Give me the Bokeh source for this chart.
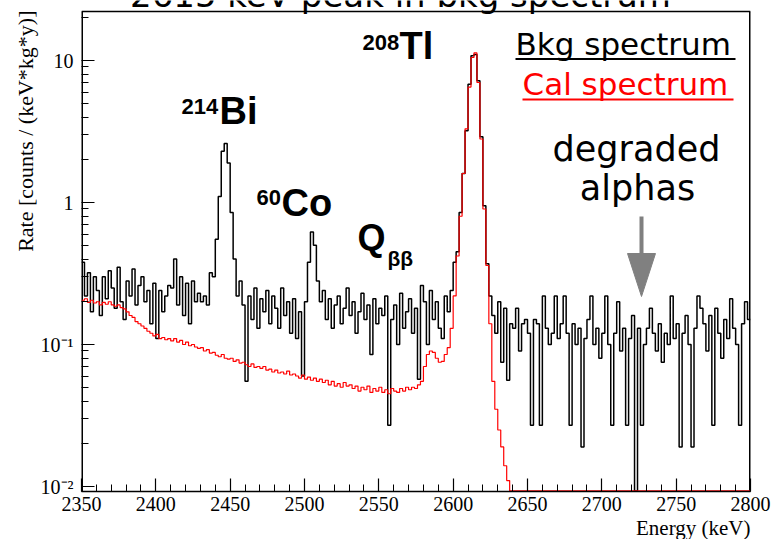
import math

from bokeh.plotting import figure
from bokeh.models import Range1d, FixedTicker, Label, Title
from bokeh.embed import file_html
from bokeh.resources import INLINE

# Histogram binning (keV)
E_MIN, E_MAX, BIN = 2350, 2800, 2

# Background spectrum, counts / (keV kg y), one value per 2 keV bin
bkg_rate = [
    0.38, 0.22, 0.32, 0.17, 0.30, 0.24, 0.16, 0.30, 0.21, 0.33,    # 2350-2370
    0.25, 0.18, 0.35, 0.20, 0.15, 0.28, 0.22, 0.34, 0.19, 0.26,    # 2370-2390
    0.30, 0.20, 0.24, 0.14, 0.27, 0.11, 0.24, 0.17, 0.22, 0.26,    # 2390-2410
    0.25, 0.40, 0.19, 0.30, 0.16, 0.27, 0.14, 0.28, 0.20, 0.23,    # 2410-2430
    0.20, 0.22, 0.19, 0.32, 0.30, 0.55, 1.10, 2.30, 2.60, 1.90,    # 2430-2450
    0.85, 0.40, 0.22, 0.28, 0.19, 0.055, 0.22, 0.15, 0.25, 0.13,   # 2450-2470
    0.21, 0.17, 0.24, 0.14, 0.22, 0.18, 0.13, 0.25, 0.16, 0.20,    # 2470-2490
    0.12, 0.21, 0.11, 0.17, 0.06, 0.20, 0.38, 0.62, 0.50, 0.28,    # 2490-2510
    0.20, 0.24, 0.15, 0.21, 0.13, 0.19, 0.22, 0.14, 0.18, 0.25,    # 2510-2530
    0.16, 0.20, 0.12, 0.17, 0.23, 0.15, 0.19, 0.085, 0.21, 0.14,   # 2530-2550
    0.18, 0.16, 0.22, 0.027, 0.15, 0.19, 0.10, 0.23, 0.13, 0.17,   # 2550-2570
    0.21, 0.12, 0.18, 0.057, 0.26, 0.20, 0.10, 0.24, 0.15, 0.20,   # 2570-2590
    0.13, 0.11, 0.22, 0.17, 0.24, 0.38, 0.45, 0.85, 1.60, 3.20,    # 2590-2610
    6.80, 10.8, 11.0, 7.20, 2.90, 0.95, 0.37, 0.22, 0.16, 0.12,    # 2610-2630
    0.20, 0.075, 0.18, 0.056, 0.14, 0.13, 0.18, 0.09, 0.14, 0.15,  # 2630-2650
    0.12, 0.027, 0.15, 0.14, 0.027, 0.22, 0.13, 0.10, 0.12, 0.22,  # 2650-2670
    0.11, 0.14, 0.22, 0.12, 0.027, 0.14, 0.10, 0.13, 0.019, 0.11,  # 2670-2690
    0.15, 0.22, 0.10, 0.13, 0.08, 0.12, 0.22, 0.10, 0.027, 0.12,   # 2690-2710
    0.20, 0.09, 0.13, 0.027, 0.11, 0.16, 0.0, 0.13, 0.027, 0.10,   # 2710-2730
    0.13, 0.18, 0.12, 0.09, 0.14, 0.075, 0.12, 0.10, 0.22, 0.11,   # 2730-2750
    0.14, 0.019, 0.12, 0.16, 0.10, 0.019, 0.13, 0.22, 0.18, 0.14,  # 2750-2770
    0.09, 0.16, 0.027, 0.18, 0.12, 0.08, 0.15, 0.11, 0.21, 0.13,   # 2770-2790
    0.10, 0.027, 0.14, 0.20, 0.15,                                 # 2790-2800
]

# Calibration spectrum, normalised to the 208Tl line
cal_rate = [
    0.205, 0.21, 0.198, 0.205, 0.196, 0.20, 0.19, 0.198, 0.192, 0.20,      # 2350-2370
    0.19, 0.186, 0.19, 0.182, 0.178, 0.17, 0.16, 0.155, 0.145, 0.14,       # 2370-2390
    0.135, 0.13, 0.124, 0.12, 0.115, 0.118, 0.11, 0.112, 0.108, 0.11,      # 2390-2410
    0.106, 0.11, 0.104, 0.107, 0.10, 0.104, 0.098, 0.10, 0.096, 0.094,     # 2410-2430
    0.095, 0.09, 0.092, 0.087, 0.088, 0.084, 0.082, 0.085, 0.08, 0.079,    # 2430-2450
    0.08, 0.076, 0.078, 0.074, 0.075, 0.072, 0.07, 0.073, 0.069, 0.07,     # 2450-2470
    0.068, 0.07, 0.066, 0.067, 0.064, 0.066, 0.063, 0.064, 0.062, 0.065,   # 2470-2490
    0.061, 0.062, 0.06, 0.058, 0.061, 0.057, 0.059, 0.056, 0.058, 0.055,   # 2490-2510
    0.057, 0.054, 0.056, 0.052, 0.055, 0.051, 0.053, 0.05, 0.054, 0.051,   # 2510-2530
    0.052, 0.049, 0.051, 0.047, 0.05, 0.048, 0.051, 0.046, 0.049, 0.047,   # 2530-2550
    0.05, 0.046, 0.048, 0.045, 0.049, 0.047, 0.046, 0.049, 0.047, 0.05,    # 2550-2570
    0.048, 0.05, 0.049, 0.052, 0.055, 0.07, 0.085, 0.09, 0.088, 0.08,      # 2570-2590
    0.075, 0.076, 0.085, 0.095, 0.13, 0.22, 0.42, 0.80, 1.60, 3.30,        # 2590-2610
    6.50, 10.5, 11.3, 7.00, 2.80, 0.90, 0.36, 0.14, 0.055, 0.035,          # 2610-2630
    0.025, 0.019, 0.014, 0.011, 0, 0, 0, 0, 0, 0,                          # 2630-2650
    0, 0, 0, 0, 0, 0, 0, 0, 0, 0,                                          # 2650-2670
    0, 0, 0, 0, 0, 0, 0, 0, 0, 0,                                          # 2670-2690
    0, 0, 0, 0, 0, 0, 0, 0, 0, 0,                                          # 2690-2710
    0, 0, 0, 0, 0, 0, 0, 0, 0, 0,                                          # 2710-2730
    0, 0, 0, 0, 0, 0, 0, 0, 0, 0,                                          # 2730-2750
    0, 0, 0, 0, 0, 0, 0, 0, 0, 0,                                          # 2750-2770
    0, 0, 0, 0, 0, 0, 0, 0, 0, 0,                                          # 2770-2790
    0, 0, 0, 0, 0,                                                         # 2790-2800
]

x_ticks = [2350, 2400, 2450, 2500, 2550, 2600, 2650, 2700, 2750, 2800]
y_ticks = [0.01, 0.1, 1, 10]
y_tick_text = {0.01: "10\u207b\u00b2", 0.1: "10\u207b\u00b9", 1: "1", 10: "10"}

# Page geometry (pixels): the plotting area is drawn as a box below a strip
# that carries the title, which runs off the top of the page.
FRAME_L, FRAME_R, BOX_T, FRAME_B = 81, 750, 11, 491
W, H = 771, 539
PX_PER_DECADE = 142.0
Y_TEN_PX = 60.0  # page row of the 10 tick
BASELINE_SHIFT = 0.38  # label anchor sits this many font sizes above the baseline


def ex(px):
    return E_MIN + (px - FRAME_L) * (E_MAX - E_MIN) / (FRAME_R - FRAME_L)


def ry(py):
    return 10 ** (1 - (py - Y_TEN_PX) / PX_PER_DECADE)


y_lo, y_box = ry(FRAME_B), ry(BOX_T)
floor = ry(FRAME_B - 0.6)  # empty bins are drawn along the bottom edge


def outline(vals):
    xs, ys = [], []
    for i, v in enumerate(vals):
        lo = E_MIN + i * BIN
        yv = v if v > 0 else floor
        xs += [lo, lo + BIN]
        ys += [yv, yv]
    return xs, ys


p = figure(
    width=W, height=H,
    x_range=Range1d(E_MIN, E_MAX), y_range=Range1d(y_lo, ry(0)),
    y_axis_type="log", title=None,
    output_backend="svg", toolbar_location=None,
    min_border_left=FRAME_L, min_border_right=W - FRAME_R,
    min_border_top=0, min_border_bottom=H - FRAME_B,
)
p.background_fill_color = "white"
p.border_fill_color = "white"
p.outline_line_color = None
p.xgrid.visible = False
p.ygrid.visible = False

xa, ya = p.xaxis[0], p.yaxis[0]
xa.ticker = FixedTicker(ticks=x_ticks, minor_ticks=list(range(E_MIN, E_MAX + 1, 10)))
minor_y = [m * 10.0 ** e for e in range(-3, 2) for m in range(2, 10)]
ya.ticker = FixedTicker(ticks=y_ticks, minor_ticks=[v for v in minor_y if y_lo < v < y_box])
ya.major_label_overrides = y_tick_text
for ax in (xa, ya):
    ax.axis_line_color = "black"
    ax.axis_line_width = 1.5
    ax.major_tick_line_color = "black"
    ax.minor_tick_line_color = "black"
    ax.major_tick_line_width = 1.2
    ax.minor_tick_line_width = 1.0
    ax.major_tick_in = 13
    ax.major_tick_out = 0
    ax.minor_tick_in = 7
    ax.minor_tick_out = 0
    ax.major_label_text_font = "Liberation Serif"
    ax.major_label_text_font_size = "20px"
    ax.major_label_text_color = "black"
ya.axis_line_color = None  # left edge comes from the box below
xa.major_label_standoff = 5
ya.major_label_standoff = 8

# Axis titles, flush with the far ends of the axes
p.add_layout(Title(text="Rate [counts / (keV*kg*y)]", align="right",
                   text_font="Liberation Serif", text_font_size="22px",
                   text_font_style="normal", text_color="black",
                   standoff=0, offset=BOX_T - 1), "left")
p.add_layout(Title(text="Energy (keV)", align="right",
                   text_font="Liberation Serif", text_font_size="21px",
                   text_font_style="normal", text_color="black",
                   standoff=0, offset=0), "below")

# Box around the plotting area (edges on the clip boundary are doubled)
p.line([E_MIN, E_MIN], [y_lo, y_box], line_color="black", line_width=3)
p.line([E_MAX, E_MAX], [y_lo, y_box], line_color="black", line_width=3)
p.line([E_MIN, E_MAX], [y_box, y_box], line_color="black", line_width=1.5)

# Spectra
bx, by = outline(bkg_rate)
cx, cy = outline(cal_rate)
p.line(bx, by, line_color="black", line_width=1.5)
p.line(cx, cy, line_color="#ff0000", line_width=1.2)


def txt(px, py, s, size, font="DejaVu Sans", color="black", style="normal",
        align="left"):
    anchor = py - BASELINE_SHIFT * size
    p.add_layout(Label(x=ex(px), y=ry(anchor), text=s, text_font=font,
                       text_font_size=f"{size}px", text_font_style=style,
                       text_color=color, text_align=align,
                       text_baseline="alphabetic"))


# Plot title
txt(400, 7, "2615 keV peak in bkg spectrum", 34, align="center")

# Line labels
bold = dict(font="Liberation Sans", style="bold")
txt(362, 50, "208", 22, **bold)
txt(399, 60, "Tl", 38, **bold)
txt(181, 114, "214", 22, **bold)
txt(219, 125, "Bi", 38, **bold)
txt(256, 205, "60", 22, **bold)
txt(281, 217, "Co", 38, **bold)
txt(357, 251, "Q", 36, **bold)
txt(387, 266, "\u03b2\u03b2", 21, **bold)

# Legend
txt(515, 55, "Bkg spectrum", 31)
txt(522, 95, "Cal spectrum", 31, color="#ff0000")
p.line([ex(515), ex(735)], [ry(58.5), ry(58.5)], line_color="black", line_width=2)
p.line([ex(522), ex(733)], [ry(99), ry(99)], line_color="#ff0000", line_width=2)

# Degraded alpha region marker
txt(636, 162, "degraded", 35, align="center")
txt(637, 201, "alphas", 35, align="center")
p.line([ex(641), ex(641)], [ry(216), ry(256)], line_color="#808080", line_width=4)
p.patch([ex(627), ex(655), ex(641)], [ry(253), ry(253), ry(296)],
        fill_color="#808080", line_color="#808080")

open("out.html", "w").write(file_html(p, INLINE))
